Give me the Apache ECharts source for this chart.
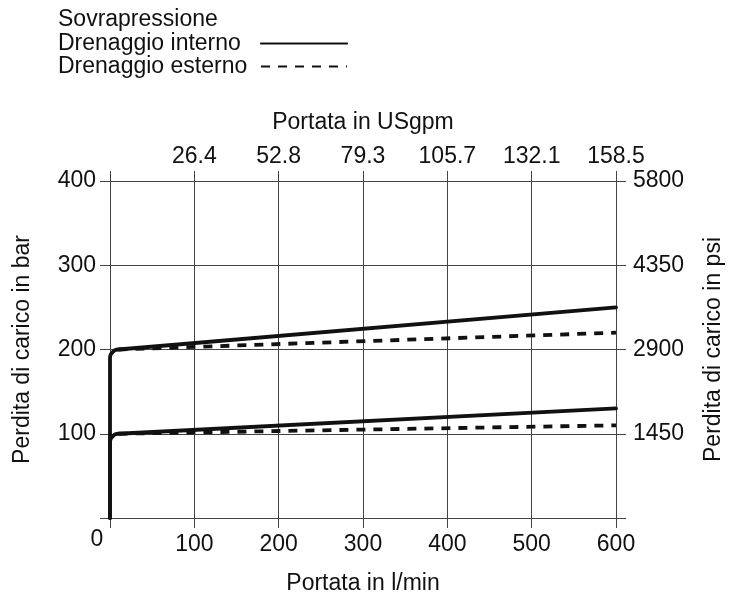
<!DOCTYPE html>
<html>
<head>
<meta charset="utf-8">
<script src="https://cdn.jsdelivr.net/npm/echarts@6/dist/echarts.min.js"></script>
<style>
  html, body { margin: 0; padding: 0; background: #fff; }
  #chart { width: 733px; height: 603px; }
</style>
</head>
<body>
<div id="chart"></div>
<script>
// valori: portata l/min, perdita di carico bar
const flowTicks = [0, 100, 200, 300, 400, 500, 600];
const usgpmLabels = ['', '26.4', '52.8', '79.3', '105.7', '132.1', '158.5'];
const barTicks = [0, 100, 200, 300, 400];
const psiLabels = ['', '1450', '2900', '4350', '5800'];

const internoAlto = [[0, 0], [0, 190], [0.34, 192.6], [1.34, 195], [2.93, 197.1], [5, 198.7], [7.4, 199.7], [10, 200], [600, 250]];
const internoBasso = [[0, 0], [0, 90], [0.34, 92.6], [1.34, 95], [2.93, 97.1], [5, 98.7], [7.4, 99.7], [10, 100], [600, 130]];
const esternoAlto = [[10, 200], [600, 220]];
const esternoBasso = [[10, 100], [600, 110]];

const FONT = '"Liberation Sans", Arial, Helvetica, sans-serif';
const FS = 23;
const INK = '#111';
const GRID = '#444';

const chart = echarts.init(document.getElementById('chart'), null, { renderer: 'canvas' });

const solid = { color: INK, width: 3.8, type: 'solid', cap: 'round', join: 'round' };
const dashed = { color: INK, width: 3.8, type: [9, 8] };

function axisBase(min, max) {
  return {
    type: 'value', min: min, max: max, interval: 100,
    axisLine: { show: true, onZero: false, lineStyle: { color: GRID, width: 1 } },
    axisTick: { show: true, length: 10, inside: false, lineStyle: { color: GRID, width: 1 } },
    nameLocation: 'middle',
    nameTextStyle: { fontFamily: FONT, fontSize: FS, color: INK }
  };
}

chart.setOption({
  animation: false,
  backgroundColor: '#fff',
  title: {
    text: 'Sovrapressione', left: 53, top: 3,
    textStyle: { fontFamily: FONT, fontSize: FS, fontWeight: 'normal', color: INK }
  },
  legend: {
    orient: 'vertical', left: 53, top: 27, align: 'right',
    itemGap: 0, itemWidth: 86, itemHeight: 14,
    data: ['Drenaggio interno', 'Drenaggio esterno'],
    lineStyle: { width: 2.2 },
    itemStyle: { opacity: 0 },
    formatter: name => '{w|' + name + '}',
    textStyle: {
      fontFamily: FONT, fontSize: FS, color: INK,
      rich: { w: { fontFamily: FONT, fontSize: FS, color: INK, width: 198, align: 'left' } }
    }
  },
  grid: { left: 110, right: 117, top: 181, bottom: 85, containLabel: false },
  xAxis: [
    Object.assign(axisBase(0, 600), {
      position: 'bottom', name: 'Portata in l/min', nameGap: 54,
      splitLine: { show: true, lineStyle: { color: GRID, width: 1 } },
      axisLabel: {
        margin: 10, fontFamily: FONT, fontSize: FS, color: INK,
        formatter: v => v === 0 ? '{z|0}' : '{n|' + v + '}',
        rich: {
          z: { fontFamily: FONT, fontSize: FS, color: INK, padding: [0, 26, 0, 0] },
          n: { fontFamily: FONT, fontSize: FS, color: INK, padding: [5, 0, 0, 0] }
        }
      }
    }),
    Object.assign(axisBase(0, 600), {
      position: 'top', name: 'Portata in USgpm', nameGap: 47,
      splitLine: { show: false },
      axisLabel: {
        margin: 13, fontFamily: FONT, fontSize: FS, color: INK,
        formatter: v => usgpmLabels[flowTicks.indexOf(v)] || ''
      }
    })
  ],
  yAxis: [
    Object.assign(axisBase(0, 400), {
      position: 'left', name: 'Perdita di carico in bar', nameGap: 76,
      splitLine: { show: true, lineStyle: { color: GRID, width: 1 } },
      axisLabel: {
        margin: 14, fontFamily: FONT, fontSize: FS, color: INK,
        formatter: v => v === 0 ? '' : String(v)
      }
    }),
    Object.assign(axisBase(0, 400), {
      position: 'right', name: 'Perdita di carico in psi', nameGap: 86,
      nameRotate: 90,
      splitLine: { show: false },
      axisLabel: {
        margin: 17, fontFamily: FONT, fontSize: FS, color: INK,
        formatter: v => psiLabels[barTicks.indexOf(v)] || ''
      }
    })
  ],
  series: [
    { name: 'Drenaggio esterno', type: 'line', data: esternoAlto, showSymbol: false, symbol: 'none', lineStyle: dashed, itemStyle: { color: INK }, z: 2 },
    { name: 'Drenaggio esterno', type: 'line', data: esternoBasso, showSymbol: false, symbol: 'none', lineStyle: dashed, itemStyle: { color: INK }, z: 2 },
    { name: 'Drenaggio interno', type: 'line', data: internoAlto, showSymbol: false, symbol: 'none', lineStyle: solid, itemStyle: { color: INK }, z: 3 },
    { name: 'Drenaggio interno', type: 'line', data: internoBasso, showSymbol: false, symbol: 'none', lineStyle: solid, itemStyle: { color: INK }, z: 3 }
  ]
});
</script>
</body>
</html>
